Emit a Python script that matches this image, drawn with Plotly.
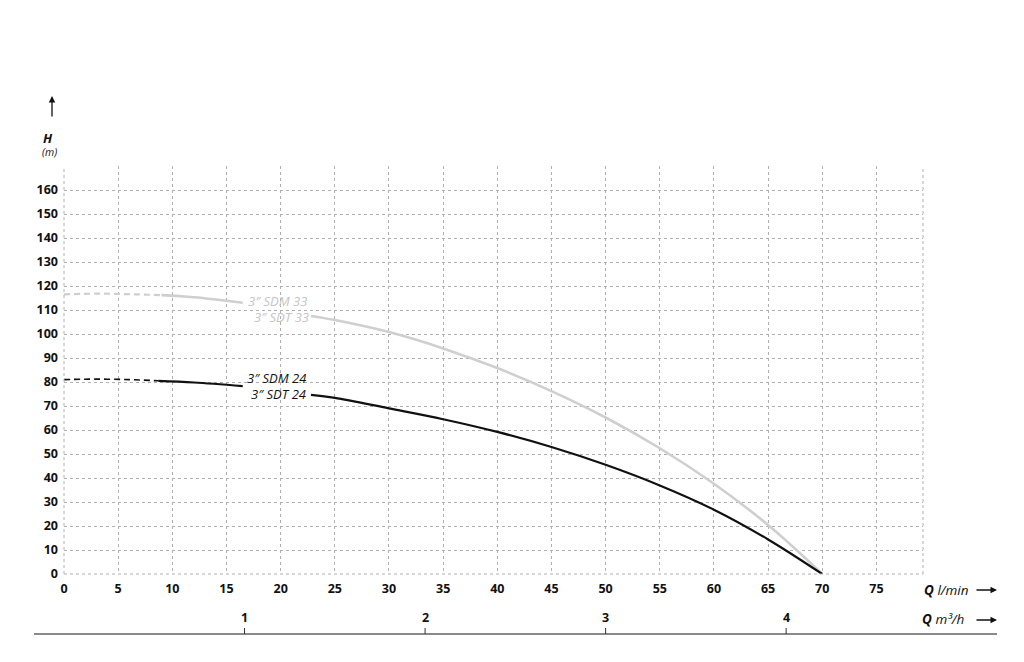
import plotly.graph_objects as go

# ---------------- data ----------------
x_ticks = [0, 5, 10, 15, 20, 25, 30, 35, 40, 45, 50, 55, 60, 65, 70, 75]
y_ticks = [0, 10, 20, 30, 40, 50, 60, 70, 80, 90, 100, 110, 120, 130, 140, 150, 160]
m3h_ticks = [1, 2, 3, 4]

# 3" SDM 33 / SDT 33 (light grey)
q33_dash = [0, 3, 6, 9]
h33_dash = [116.5, 116.8, 116.6, 116.2]
q33_a = [9, 12, 16.5]
h33_a = [116.2, 115.3, 113.0]
q33_b = [22.8, 25, 30, 35, 40, 45, 50, 55, 60, 65, 70]
h33_b = [107.5, 105.8, 100.8, 94.0, 85.8, 76.2, 65.2, 52.4, 37.6, 20.4, 0.0]

# 3" SDM 24 / SDT 24 (black)
q24_dash = [0, 3, 6, 8.7]
h24_dash = [81.0, 81.2, 81.0, 80.5]
q24_a = [8.7, 12, 16.5]
h24_a = [80.5, 79.8, 78.3]
q24_b = [22.8, 25, 30, 35, 40, 45, 50, 55, 60, 65, 70]
h24_b = [74.6, 73.4, 69.0, 64.5, 59.2, 52.9, 45.5, 36.9, 26.8, 14.4, 0.0]

GREY = "#cfcfcf"
BLACK = "#111111"
FONT = "Open Sans"
X_MAX = 79.3

# plot area in page pixels (page body adds an 8px offset)
PL, PR, PT, PB = 64, 923, 166, 574


def px(xp):
    return (xp - PL) / (PR - PL)


def py(yp):
    return (PB - yp) / (PB - PT)


fig = go.Figure()
for xs, ys, col, dash, w in [
    (q33_dash, h33_dash, GREY, "6px,4px", 2.2),
    (q33_a, h33_a, GREY, "solid", 2.6),
    (q33_b, h33_b, GREY, "solid", 2.6),
    (q24_dash, h24_dash, BLACK, "6px,4px", 1.6),
    (q24_a, h24_a, BLACK, "solid", 2.2),
    (q24_b, h24_b, BLACK, "solid", 2.2),
]:
    fig.add_trace(go.Scatter(x=xs, y=ys, mode="lines",
                             line=dict(color=col, width=w, dash=dash, shape="spline", smoothing=1.0),
                             showlegend=False, hoverinfo="skip", cliponaxis=False))

fig.update_layout(
    width=1024, height=662,
    margin=dict(l=PL - 8, r=1024 - (PR - 8), t=PT - 8, b=662 - (PB - 8)),
    paper_bgcolor="white", plot_bgcolor="white",
    font=dict(family=FONT, size=12, color="#111"),
    xaxis=dict(range=[0, X_MAX], tickvals=x_ticks, ticktext=[f"<b>{v}</b>" for v in x_ticks],
               showgrid=True, gridcolor="#b0b0b0", griddash="dot", gridwidth=1,
               zeroline=False, showline=False, ticks="", ticklabelstandoff=5,
               tickfont=dict(size=12.5, family=FONT, color="#111")),
    yaxis=dict(range=[0, 170], tickvals=y_ticks + [170], ticktext=[f"<b>{v}</b>" for v in y_ticks] + [""],
               showgrid=True, gridcolor="#b0b0b0", griddash="dot", gridwidth=1,
               zeroline=False, showline=False, ticks="", ticklabelstandoff=5,
               tickfont=dict(size=12.5, family=FONT, color="#111")),
)

# boundary dotted lines (left, bottom, right)
dot = dict(color="#b0b0b0", width=1, dash="dot")
fig.add_shape(type="line", xref="paper", yref="paper", x0=0, x1=1, y0=0, y1=0, line=dot)
fig.add_shape(type="line", xref="paper", yref="paper", x0=0, x1=0, y0=0, y1=1, line=dot)
fig.add_shape(type="line", xref="paper", yref="paper", x0=1, x1=1, y0=0, y1=1, line=dot)

# curve labels
for txt, x, y, col in [
    ("3\u2033 SDM 33", 19.7, 113.7, "#c4c4c4"),
    ("3\u2033 SDT 33", 20.1, 106.9, "#c4c4c4"),
    ("3\u2033 SDM 24", 19.6, 81.6, "#111"),
    ("3\u2033 SDT 24", 19.8, 74.8, "#111"),
]:
    fig.add_annotation(x=x, y=y, xref="x", yref="y", text=f"<i>{txt}</i>", showarrow=False,
                       xanchor="center", yanchor="middle", height=14,
                       font=dict(size=13, family=FONT, color=col))

# H axis title with arrow
fig.add_annotation(xref="paper", yref="paper", x=px(52), y=py(96),
                   ax=0, ay=22, text="", showarrow=True, arrowhead=2, arrowsize=1,
                   arrowwidth=1.3, arrowcolor="#111")
fig.add_annotation(xref="paper", yref="paper", x=px(48), y=py(138), xanchor="center", yanchor="middle",
                   text="<b><i>H</i></b>", showarrow=False, font=dict(size=13, family=FONT, color="#111"))
fig.add_annotation(xref="paper", yref="paper", x=px(49), y=py(152), xanchor="center", yanchor="middle",
                   text="<i>(m)</i>", showarrow=False, font=dict(size=10.5, family=FONT, color="#111"))

# Q labels
fig.add_annotation(xref="paper", yref="paper", x=px(922), y=py(590), xanchor="left", yanchor="middle",
                   text="<b><i>Q</i></b> <i>l/min</i>", showarrow=False, font=dict(size=13.5, family=FONT, color="#111"))
fig.add_annotation(xref="paper", yref="paper", x=px(920), y=py(619), xanchor="left", yanchor="middle",
                   text="<b><i>Q</i></b> <i>m\u00b3/h</i>", showarrow=False, font=dict(size=13.5, family=FONT, color="#111"))
for yy in [590, 620]:
    fig.add_annotation(xref="paper", yref="paper", x=px(997), y=py(yy),
                       ax=-22, ay=0, text="", showarrow=True, arrowhead=2, arrowsize=1,
                       arrowwidth=1.3, arrowcolor="#111")

# secondary m3/h axis
base_y = py(634)
fig.add_shape(type="line", xref="paper", yref="paper", x0=px(34), x1=px(997),
              y0=base_y, y1=base_y, line=dict(color="#8a8a8a", width=2))
for v in m3h_ticks:
    xq = v * 1000 / 60
    fig.add_shape(type="line", xref="x", yref="paper", x0=xq, x1=xq, y0=base_y, y1=py(628),
                  line=dict(color="#333", width=1))
    fig.add_annotation(xref="x", yref="paper", x=xq, y=py(617), xanchor="center", yanchor="middle",
                       text=f"<b>{v}</b>", showarrow=False, font=dict(size=12.5, family=FONT, color="#111"))

fig.write_html("out.html")
